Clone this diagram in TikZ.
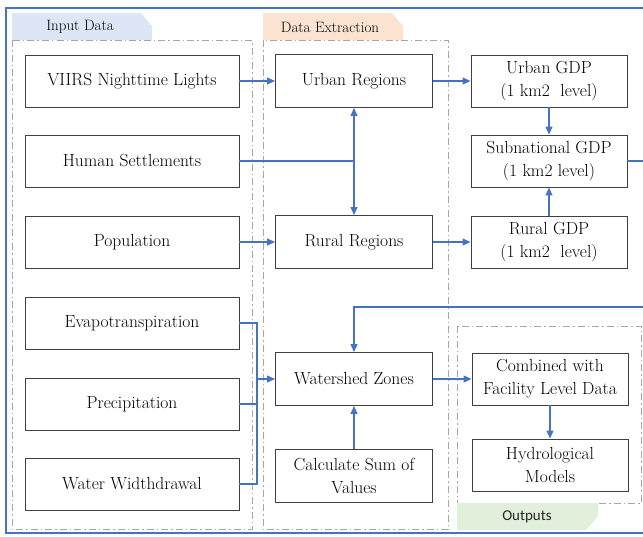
\documentclass[tikz,border=0pt]{standalone}
\usepackage{fontspec}
\newfontfamily\tabsans{Carlito}
\usetikzlibrary{arrows.meta}
\definecolor{lineblue}{HTML}{4472C4}
\definecolor{boxgray}{HTML}{404040}
\definecolor{dashgray}{HTML}{A6A6A6}
\definecolor{tabblue}{HTML}{DCE6F4}
\definecolor{tabpeach}{HTML}{FBE3D2}
\definecolor{tabgreen}{HTML}{E2EFDA}

\begin{document}
\begin{tikzpicture}[x=1pt,y=-1pt,
    box/.style={draw=boxgray,line width=0.95pt,inner sep=0pt,align=center,text=black,font=\fontsize{17.5}{23}\selectfont},
    inbox/.style={box,minimum width=214pt,minimum height=52pt},
    midbox/.style={box,minimum width=157pt,minimum height=53pt},
    outbox/.style={box,minimum width=156pt,minimum height=52pt},
    link/.style={draw=lineblue,line width=1.1pt},
    arr/.style={link,-{Triangle[length=8pt,width=7pt]}},
    arrboth/.style={link,{Triangle[length=8pt,width=7pt]}-{Triangle[length=8pt,width=7pt]}},
    zone/.style={draw=dashgray,line width=0.9pt,dash pattern=on 7pt off 3pt on 1.5pt off 3pt},
    tabtext/.style={font=\fontsize{15}{18}\selectfont}]
\useasboundingbox (0,0) rectangle (643,536);
% frame
\draw[lineblue,line width=2.5pt] (643,8) -- (6,8) -- (6,533) -- (643,533);

% groups
\fill[tabblue] (12,40) -- (12,13) -- (141,13) -- (152,26) -- (152,40) -- cycle;
\node[tabtext] (intab) at (80,27) {Input Data};
\draw[zone] (12,40) rectangle (252,529);
\fill[tabpeach] (263,40) -- (263,13) -- (392,13) -- (403,26) -- (403,40) -- cycle;
\node[tabtext] (extab) at (330,27) {Data Extraction};
\draw[zone] (263,40) rectangle (448,529);
\draw[zone] (457,326) rectangle (641,503);
\fill[tabgreen] (457,503) -- (598,503) -- (598,516) -- (586,530) -- (457,530) -- cycle;
\node[font=\tabsans\fontsize{15}{18}\selectfont,text=black!85] (outtab) at (527,517) {Outputs};

% input data
\node[inbox] (viirs) at (132,81) {VIIRS Nighttime Lights};
\node[inbox] (hs) at (132,161) {Human Settlements};
\node[inbox] (pop) at (132,242) {Population};
\node[inbox] (evap) at (132,323) {Evapotranspiration};
\node[inbox] (precip) at (132,404) {Precipitation};
\node[inbox] (water) at (132,484) {Water Widthdrawal};

% extraction
\node[midbox] (urban) at (354,81) {Urban Regions};
\node[midbox] (rural) at (354,242) {Rural Regions};
\node[midbox] (ws) at (354,379) {Watershed Zones};
\node[midbox] (calc) at (354,476) {Calculate Sum of\\Values};

% gdp and outputs
\node[outbox] (ugdp) at (549,81) {Urban GDP\\(1 km2~ level)};
\node[outbox] (sgdp) at (549,161) {Subnational GDP\\(1 km2 level)};
\node[outbox] (rgdp) at (549,242) {Rural GDP\\(1 km2~ level)};
\node[outbox] (comb) at (550,379) {Combined with\\Facility Level Data};
\node[outbox] (hydro) at (550,465) {Hydrological\\Models};

\coordinate (hsj) at (hs -| urban);
\coordinate (wj) at (257,379);
\coordinate (rt) at (643,307);

\draw[arr] (viirs) -- (urban);
\draw[link] (hs.east) -- (hsj);
\draw[arrboth] (urban) -- (rural);
\draw[arr] (pop) -- (rural);
\draw[arr] (urban) -- (ugdp);
\draw[arr] (rural) -- (rgdp);
\draw[arr] (ugdp) -- (sgdp);
\draw[arr] (rgdp) -- (sgdp);
\draw[link] (sgdp.east) -- (sgdp.east -| rt);
\draw[arr] (rt) -| (ws.north);
\draw[link] (evap.east) -| (wj);
\draw[link] (water.east) -| (wj);
\draw[link] (precip.east) -- (precip.east -| wj);
\draw[arr] (wj) -- (ws);
\draw[arr] (calc) -- (ws);
\draw[arr] (ws) -- (comb);
\draw[arr] (comb) -- (hydro);
\end{tikzpicture}
\end{document}
